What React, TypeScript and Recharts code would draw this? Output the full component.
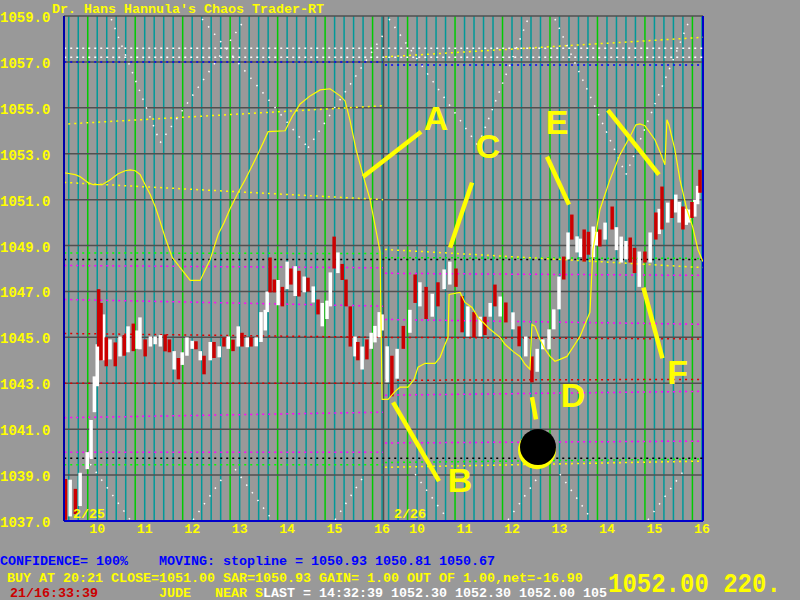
import React from 'react';
import { ComposedChart, Scatter, ErrorBar, Line, XAxis, YAxis, ReferenceLine, ReferenceDot } from 'recharts';

// second session is drawn right after the first one on the same time axis
const DAY2_SHIFT = 6.737;
const toT = (day: number, h: number) => (day === 1 ? h : h + DAY2_SHIFT);

const hourTicks = [10, 11, 12, 13, 14, 15, 16];
const priceTicks = [1037, 1039, 1041, 1043, 1045, 1047, 1049, 1051, 1053, 1055, 1057, 1059];

// [clock hour, low, high, w=up / r=down]
const day1Bars: [number, number, number, string][] = [
    [9.33, 1037.05, 1038.83, 'r'], [9.43, 1037.2, 1038.8, 'w'], [9.54, 1037.3, 1038.4, 'r'],
    [9.64, 1037.65, 1039.1, 'w'], [9.79, 1039.26, 1040.0, 'w'], [9.87, 1039.7, 1041.4, 'w'],
    [9.94, 1041.74, 1043.3, 'w'], [10.0, 1042.87, 1044.7, 'w'], [10.03, 1044.6, 1047.1, 'r'],
    [10.08, 1044.0, 1046.5, 'r'], [10.13, 1044.0, 1046.0, 'w'], [10.19, 1043.74, 1045.0, 'r'],
    [10.27, 1044.04, 1044.91, 'w'], [10.38, 1043.74, 1044.78, 'r'], [10.48, 1044.17, 1045.04, 'w'],
    [10.57, 1044.2, 1045.1, 'r'], [10.65, 1044.35, 1045.48, 'w'], [10.76, 1044.4, 1045.6, 'r'],
    [10.84, 1044.5, 1045.3, 'w'], [10.9, 1044.48, 1045.87, 'w'], [11.01, 1044.17, 1044.91, 'r'],
    [11.12, 1044.6, 1045.04, 'w'], [11.22, 1044.7, 1045.04, 'w'], [11.33, 1044.6, 1045.1, 'w'],
    [11.43, 1044.39, 1045.13, 'r'], [11.52, 1044.35, 1044.91, 'r'], [11.62, 1043.6, 1044.4, 'w'],
    [11.71, 1043.17, 1044.1, 'r'], [11.79, 1043.8, 1044.35, 'w'], [11.89, 1044.2, 1045.0, 'w'],
    [12.0, 1044.5, 1044.85, 'w'], [12.08, 1044.48, 1044.83, 'r'], [12.17, 1044.0, 1044.4, 'w'],
    [12.25, 1043.39, 1044.2, 'r'], [12.38, 1044.0, 1044.8, 'w'], [12.46, 1044.1, 1044.8, 'r'],
    [12.57, 1044.13, 1044.61, 'w'], [12.67, 1044.6, 1045.0, 'r'], [12.76, 1044.5, 1045.04, 'w'],
    [12.86, 1044.4, 1044.9, 'r'], [12.97, 1044.6, 1045.48, 'w'], [13.05, 1044.6, 1045.2, 'r'],
    [13.16, 1044.57, 1045.0, 'w'], [13.24, 1044.6, 1045.0, 'r'], [13.35, 1044.61, 1045.0, 'w'],
    [13.45, 1044.8, 1046.1, 'w'], [13.54, 1045.3, 1046.2, 'w'], [13.58, 1046.1, 1047.0, 'w'],
    [13.64, 1046.96, 1048.48, 'r'], [13.73, 1046.96, 1047.52, 'r'], [13.81, 1046.4, 1047.5, 'w'],
    [13.9, 1046.35, 1047.2, 'r'], [14.0, 1047.1, 1048.3, 'w'], [14.08, 1047.3, 1048.0, 'r'],
    [14.17, 1046.8, 1048.1, 'w'], [14.25, 1046.78, 1047.9, 'r'], [14.36, 1046.96, 1047.65, 'w'],
    [14.44, 1047.0, 1047.6, 'r'], [14.55, 1046.52, 1047.22, 'w'], [14.65, 1046.0, 1046.65, 'r'],
    [14.74, 1045.48, 1046.5, 'w'], [14.84, 1045.8, 1046.6, 'w'], [14.91, 1046.35, 1047.83, 'w'],
    [14.99, 1048.0, 1049.39, 'r'], [15.07, 1047.8, 1048.7, 'w'], [15.16, 1047.5, 1048.2, 'r'],
    [15.24, 1046.35, 1047.52, 'r'], [15.33, 1044.6, 1046.35, 'r'], [15.43, 1044.17, 1045.04, 'w'],
    [15.49, 1044.0, 1044.8, 'r'], [15.58, 1043.6, 1044.6, 'w'], [15.68, 1044.04, 1044.91, 'r'],
    [15.77, 1044.5, 1045.2, 'w'], [15.85, 1044.78, 1045.5, 'w'], [15.94, 1045.0, 1046.1, 'w'],
    [16.0, 1045.3, 1046.0, 'w'],
];

const day2Bars: [number, number, number, string][] = [
    [9.37, 1043.04, 1044.61, 'w'], [9.47, 1042.43, 1044.2, 'r'], [9.58, 1043.2, 1044.5, 'w'],
    [9.71, 1044.5, 1045.5, 'r'], [9.85, 1045.2, 1046.2, 'w'], [9.96, 1046.5, 1047.74, 'r'],
    [10.06, 1046.35, 1047.4, 'w'], [10.19, 1045.8, 1047.2, 'r'], [10.32, 1045.9, 1046.9, 'w'],
    [10.44, 1046.35, 1047.4, 'r'], [10.57, 1047.1, 1047.96, 'w'], [10.69, 1047.3, 1048.3, 'w'],
    [10.82, 1047.2, 1048.0, 'r'], [10.95, 1045.22, 1046.8, 'r'], [11.07, 1045.04, 1046.35, 'w'],
    [11.2, 1045.0, 1046.1, 'r'], [11.33, 1045.04, 1045.9, 'w'], [11.43, 1045.1, 1045.9, 'r'],
    [11.54, 1045.9, 1046.5, 'w'], [11.64, 1046.35, 1047.3, 'r'], [11.75, 1045.91, 1046.78, 'w'],
    [11.87, 1045.65, 1046.52, 'r'], [12.02, 1045.35, 1046.09, 'w'], [12.15, 1044.61, 1045.48, 'r'],
    [12.29, 1044.17, 1045.04, 'w'], [12.42, 1043.04, 1044.17, 'r'], [12.53, 1043.5, 1044.5, 'w'],
    [12.65, 1044.48, 1044.91, 'w'], [12.78, 1044.48, 1045.35, 'w'], [12.88, 1045.35, 1046.22, 'w'],
    [12.99, 1046.22, 1047.65, 'w'], [13.09, 1047.52, 1048.52, 'r'], [13.18, 1048.39, 1049.57, 'w'],
    [13.26, 1049.26, 1050.35, 'r'], [13.37, 1048.7, 1049.4, 'w'], [13.44, 1048.5, 1049.3, 'w'],
    [13.52, 1048.3, 1049.7, 'r'], [13.61, 1048.6, 1049.6, 'r'], [13.71, 1048.5, 1049.83, 'w'],
    [13.78, 1049.0, 1049.6, 'w'], [13.85, 1048.96, 1049.7, 'r'], [13.96, 1049.26, 1050.0, 'w'],
    [14.11, 1049.7, 1050.7, 'r'], [14.2, 1048.8, 1049.8, 'w'], [14.3, 1048.26, 1049.39, 'w'],
    [14.4, 1048.4, 1049.2, 'w'], [14.49, 1048.26, 1049.35, 'r'], [14.58, 1047.8, 1048.9, 'r'],
    [14.68, 1047.2, 1048.74, 'w'], [14.8, 1048.26, 1048.74, 'r'], [14.91, 1048.26, 1049.57, 'w'],
    [15.03, 1049.26, 1050.44, 'r'], [15.1, 1049.5, 1050.6, 'w'], [15.16, 1049.7, 1051.57, 'r'],
    [15.28, 1050.0, 1050.87, 'w'], [15.37, 1050.2, 1051.0, 'r'], [15.45, 1050.44, 1051.22, 'w'],
    [15.52, 1050.0, 1050.9, 'w'], [15.6, 1049.7, 1050.7, 'r'], [15.67, 1049.9, 1050.6, 'w'],
    [15.73, 1050.0, 1050.57, 'w'], [15.79, 1050.2, 1050.9, 'r'], [15.85, 1050.26, 1051.0, 'w'],
    [15.91, 1050.8, 1051.6, 'w'], [15.96, 1051.3, 1052.3, 'r'],
];

// yellow projection curve [clock hour, price]
const day1Projection: [number, number][] = [
    [9.305, 1052.17], [9.537, 1052.09], [9.642, 1052.0], [9.81, 1051.74], [9.916, 1051.65],
    [10.105, 1051.65], [10.274, 1051.87], [10.44, 1052.13], [10.59, 1052.26], [10.695, 1052.3],
    [10.8, 1052.26], [10.905, 1052.09], [11.01, 1051.65], [11.116, 1051.22], [11.221, 1050.7],
    [11.326, 1050.04], [11.43, 1049.35], [11.58, 1048.48], [11.747, 1048.04], [11.958, 1047.48],
    [12.168, 1047.48], [12.379, 1048.39], [12.547, 1049.48], [12.674, 1050.0], [12.8, 1050.61],
    [12.968, 1051.31], [13.116, 1051.87], [13.326, 1052.74], [13.495, 1053.48], [13.6, 1053.96],
    [13.958, 1054.0], [14.105, 1054.61], [14.274, 1055.17], [14.484, 1055.52], [14.695, 1055.78],
    [14.905, 1055.83], [15.116, 1055.52], [15.221, 1055.3], [15.326, 1054.44], [15.453, 1053.17],
    [15.579, 1052.22], [15.747, 1051.0], [15.853, 1049.87], [15.958, 1048.74], [16.0, 1042.3],
];

const day2Projection: [number, number][] = [
    [9.389, 1042.3], [9.537, 1042.65], [9.642, 1042.83], [9.81, 1042.83], [9.937, 1043.17],
    [10.02, 1043.7], [10.17, 1043.87], [10.38, 1043.87], [10.484, 1044.13], [10.59, 1044.7],
    [10.653, 1045.0], [10.674, 1046.87], [10.905, 1046.96], [11.01, 1046.52], [11.158, 1046.3],
    [11.284, 1045.87], [11.43, 1045.57], [11.537, 1045.35], [11.747, 1045.0], [11.853, 1044.7],
    [12.02, 1044.39], [12.168, 1044.17], [12.274, 1043.83], [12.379, 1043.61], [12.42, 1045.57],
    [12.484, 1045.48], [12.59, 1044.91], [12.695, 1044.48], [12.8, 1044.17], [12.905, 1043.96],
    [13.01, 1044.04], [13.158, 1044.17], [13.326, 1044.7], [13.432, 1045.04], [13.537, 1045.57],
    [13.642, 1046.09], [13.705, 1048.83], [13.853, 1050.57], [14.063, 1051.87], [14.274, 1052.96],
    [14.484, 1053.74], [14.61, 1054.26], [14.695, 1054.3], [14.8, 1054.22], [15.01, 1053.61],
    [15.116, 1053.09], [15.221, 1052.52], [15.263, 1054.48], [15.305, 1054.26], [15.432, 1053.17],
    [15.537, 1051.87], [15.684, 1050.57], [15.81, 1049.78], [15.916, 1048.83], [16.02, 1048.3],
];

// dotted support / resistance levels: [kind, day, hour, price, day, hour, price]
const levelLines: [string, number, number, number, number, number, number][] = [
    ['white', 1, 9.305, 1057.6, 2, 16.02, 1057.6],
    ['white', 1, 9.305, 1057.2, 2, 16.02, 1057.2],
    ['blue', 1, 9.305, 1057.0, 1, 16.02, 1057.0],
    ['blue', 2, 9.326, 1056.86, 2, 16.02, 1056.86],
    ['yellow', 1, 9.39, 1054.3, 1, 16.02, 1055.09],
    ['yellow', 2, 9.326, 1057.22, 2, 16.02, 1058.07],
    ['yellow', 1, 9.305, 1051.75, 1, 16.02, 1051.0],
    ['green', 1, 9.305, 1048.68, 1, 16.02, 1048.65],
    ['green', 2, 9.326, 1048.47, 2, 16.02, 1048.44],
    ['black', 1, 9.305, 1048.39, 2, 16.02, 1048.39],
    ['yellow', 2, 9.326, 1048.83, 2, 16.02, 1048.04],
    ['magenta', 1, 9.305, 1048.13, 1, 16.02, 1048.03],
    ['magenta', 2, 9.326, 1047.79, 2, 16.02, 1047.7],
    ['magenta', 1, 9.305, 1046.65, 1, 16.02, 1046.36],
    ['magenta', 2, 9.326, 1045.78, 2, 16.02, 1045.57],
    ['red', 1, 9.305, 1045.17, 1, 16.02, 1045.0],
    ['red', 2, 9.326, 1045.0, 2, 16.02, 1044.93],
    ['red', 1, 9.305, 1043.0, 1, 16.02, 1043.0],
    ['red', 2, 9.326, 1043.13, 2, 16.02, 1043.17],
    ['magenta', 1, 9.305, 1041.5, 1, 16.02, 1041.74],
    ['magenta', 2, 9.326, 1042.48, 2, 16.02, 1042.65],
    ['magenta', 1, 9.305, 1040.0, 1, 16.02, 1040.0],
    ['magenta', 2, 9.326, 1040.4, 2, 16.02, 1040.48],
    ['black', 1, 9.305, 1039.73, 2, 16.02, 1039.73],
    ['green', 1, 9.305, 1039.45, 1, 16.02, 1039.45],
    ['green', 2, 9.326, 1039.55, 2, 16.02, 1039.7],
    ['yellow', 2, 9.326, 1039.34, 2, 16.02, 1039.61],
];

// white dotted time/price arcs: [day, hour, price, day, hour, price]
const arcLines: [number, number, number, number, number, number][] = [
    [1, 10.295, 1058.87, 1, 11.326, 1053.48], [1, 11.326, 1053.48, 1, 13.116, 1058.87],
    [1, 12.21, 1058.87, 1, 14.442, 1053.26], [1, 14.442, 1053.26, 1, 16.02, 1058.17],
    [2, 9.41, 1058.87, 2, 11.284, 1053.35], [2, 11.284, 1053.35, 2, 12.337, 1058.87],
    [2, 12.905, 1058.87, 2, 14.4, 1052.09], [2, 14.4, 1052.09, 2, 15.747, 1058.87],
    [1, 9.853, 1039.48, 1, 10.695, 1037.05], [1, 12.02, 1037.05, 1, 12.695, 1039.04],
    [1, 12.905, 1039.26, 1, 13.684, 1037.05], [1, 15.01, 1037.05, 1, 15.642, 1039.04],
    [2, 9.958, 1039.04, 2, 10.653, 1037.05], [2, 11.916, 1037.05, 2, 12.59, 1039.04],
    [2, 13.01, 1039.04, 2, 13.684, 1037.05], [2, 14.863, 1037.05, 2, 15.642, 1039.26],
];

// hand-drawn pointers [day, hour, price, day, hour, price]
const pointers: [number, number, number, number, number, number][] = [
    [1, 15.6, 1052.0, 2, 10.084, 1053.96],
    [2, 10.695, 1048.91, 2, 11.158, 1051.74],
    [2, 12.737, 1052.87, 2, 13.2, 1050.78],
    [2, 14.02, 1054.9, 2, 15.095, 1052.09],
    [2, 14.768, 1047.17, 2, 15.168, 1044.09],
    [2, 9.495, 1042.17, 2, 10.463, 1038.74],
    [2, 12.42, 1042.4, 2, 12.505, 1041.43],
];

const letters: [string, number, number, number][] = [
    ['A', 2, 10.4, 1054.57], ['C', 2, 11.495, 1053.35], ['E', 2, 12.947, 1054.4],
    ['F', 2, 15.49, 1043.5], ['B', 2, 10.905, 1038.78], ['D', 2, 13.284, 1042.48],
];

const target: [number, number, number] = [2, 12.547, 1040.22];

const Y = '#ffff00';
const RED = '#cc0000';
const MONO = '"Liberation Mono", "DejaVu Sans Mono", monospace';
const levelColors: Record<string, string> = {
    white: '#ffffff', blue: '#0000ff', yellow: '#ffff00', green: '#00ff00',
    black: '#000000', magenta: '#ff00ff', red: '#dd0000',
};

// each bar: a point at the low with an upward error bar reaching the high
const toBar = (day: number) => (b: [number, number, number, string]) => ({
    T: toT(day, b[0]), lo: b[1], span: [0, b[2] - b[1]], c: b[3],
});
const bars = [...day1Bars.map(toBar(1)), ...day2Bars.map(toBar(2))];
const upBars = bars.filter(b => b.c === 'w');
const downBars = bars.filter(b => b.c === 'r');

const projection = [
    ...day1Projection.map(p => ({ T: toT(1, p[0]), v: p[1] })),
    ...day2Projection.map(p => ({ T: toT(2, p[0]), v: p[1] })),
];

const gridLines: { T: number; green: boolean }[] = [];
for (const day of [1, 2]) {
    for (let k = 0; k <= 33; k++) {
        gridLines.push({ T: toT(day, 9.4 + k * 0.2), green: k % 5 === 2 });
    }
}
const xTicks = [...hourTicks.map(h => toT(1, h)), ...hourTicks.map(h => toT(2, h))];

const YTick = (p: any) => (
    <text x={0} y={p.y + 6} fill={Y} fontFamily={MONO} fontWeight="bold" fontSize={14}>
        {Number(p.payload.value).toFixed(1)}
    </text>
);

const NoDot = () => <g />;

export default function App() {
    return (
        <div style={{ position: 'relative', width: 800, height: 600, background: '#999999', overflow: 'hidden' }}>
            <style>{'body{margin:0;background:#999999}'}</style>
            <ComposedChart width={800} height={600} margin={{ top: 16, right: 97, bottom: 49, left: 0 }}>
                <XAxis
                    type="number"
                    dataKey="T"
                    domain={[9.3, 22.76]}
                    allowDataOverflow
                    ticks={xTicks}
                    interval={0}
                    tickFormatter={(v: number) => String(Math.round(v > 16.5 ? v - DAY2_SHIFT : v))}
                    tick={{ fill: Y, fontSize: 13.3, fontFamily: MONO, fontWeight: 'bold' }}
                    tickLine={false}
                    tickSize={0}
                    tickMargin={3}
                    height={30}
                    axisLine={{ stroke: '#0000cc', strokeWidth: 2 }}
                />
                <YAxis
                    type="number"
                    domain={[1037, 1059]}
                    allowDataOverflow
                    ticks={priceTicks}
                    interval={0}
                    width={64}
                    tick={YTick}
                    tickLine={false}
                    axisLine={{ stroke: '#0000aa', strokeWidth: 2 }}
                />
                {gridLines.map((g, i) => (
                    <ReferenceLine key={'v' + i} x={g.T} stroke={g.green ? '#00cc00' : '#009999'} strokeWidth={1.5} />
                ))}
                <ReferenceLine x={16.03} stroke="#505050" strokeWidth={1.5} />
                {priceTicks.slice(1).map(p => (
                    <ReferenceLine key={'h' + p} y={p} stroke="#505050" strokeWidth={1.5} />
                ))}
                <ReferenceLine x={22.76} stroke="#0000cc" strokeWidth={2} />
                {levelLines.map((l, i) => (
                    <ReferenceLine
                        key={'l' + i}
                        segment={[{ x: toT(l[1], l[2]), y: l[3] }, { x: toT(l[4], l[5]), y: l[6] }]}
                        stroke={levelColors[l[0]]}
                        strokeWidth={1.5}
                        strokeDasharray="2 4"
                    />
                ))}
                {arcLines.map((l, i) => (
                    <ReferenceLine
                        key={'a' + i}
                        segment={[{ x: toT(l[0], l[1]), y: l[2] }, { x: toT(l[3], l[4]), y: l[5] }]}
                        stroke="#ffffff"
                        strokeWidth={1.5}
                        strokeDasharray="1.5 8"
                    />
                ))}
                <Scatter data={upBars} dataKey="lo" shape={NoDot} isAnimationActive={false}>
                    <ErrorBar dataKey="span" direction="y" width={0} stroke="#ffffff" strokeWidth={3.5} isAnimationActive={false} />
                </Scatter>
                <Scatter data={downBars} dataKey="lo" shape={NoDot} isAnimationActive={false}>
                    <ErrorBar dataKey="span" direction="y" width={0} stroke={RED} strokeWidth={3.5} isAnimationActive={false} />
                </Scatter>
                <Line
                    data={projection}
                    dataKey="v"
                    type="linear"
                    stroke={Y}
                    strokeWidth={1.2}
                    dot={false}
                    isAnimationActive={false}
                />
                {pointers.map((l, i) => (
                    <ReferenceLine
                        key={'p' + i}
                        segment={[{ x: toT(l[0], l[1]), y: l[2] }, { x: toT(l[3], l[4]), y: l[5] }]}
                        stroke={Y}
                        strokeWidth={4.5}
                    />
                ))}
                <ReferenceDot x={toT(target[0], target[1]) - 0.02} y={target[2] - 0.14} r={19} fill={Y} stroke="none" />
                <ReferenceDot x={toT(target[0], target[1])} y={target[2]} r={18} fill="#000000" stroke="none" />
                {letters.map(([txt, d, h, p]) => (
                    <ReferenceDot
                        key={txt}
                        x={toT(d, h)}
                        y={p}
                        r={1}
                        fill="none"
                        stroke="none"
                        label={{ value: txt, position: 'center', fill: Y, fontSize: 34, fontWeight: 'bold', fontFamily: '"Liberation Sans", Arial, sans-serif' }}
                    />
                ))}
            </ComposedChart>
            <svg width={800} height={600} style={{ position: 'absolute', left: 0, top: 0, pointerEvents: 'none' }}
                fontFamily={MONO} fontWeight="bold" fontSize={13.33}>
                <text x={52} y={13} fill={Y}>Dr. Hans Hannula's Chaos Trader-RT</text>
                <text x={73} y={518} fill={Y}>2/25</text>
                <text x={394} y={518} fill={Y}>2/26</text>
                <text x={0} y={565} fill="#0000ff">CONFIDENCE= 100%</text>
                <text x={159} y={565} fill="#0000ff">MOVING: stopline = 1050.93 1050.81 1050.67</text>
                <text x={7} y={582} fill={Y}>BUY AT 20:21 CLOSE=1051.00 SAR=1050.93 GAIN= 1.00 OUT OF 1.00,net=-16.90</text>
                <text x={10} y={597} fill={RED}>21/16:33:39</text>
                <text x={159} y={597} fill={Y}>JUDE</text>
                <text x={215} y={597} fill={Y}>NEAR S</text>
                <text x={263} y={597} fill="#ffffff">LAST = 14:32:39 1052.30 1052.30 1052.00 105</text>
                <text transform="translate(608,592) scale(1,1.15)" fill={Y} fontSize={24}>1052.00 220.</text>
            </svg>
        </div>
    );
}
